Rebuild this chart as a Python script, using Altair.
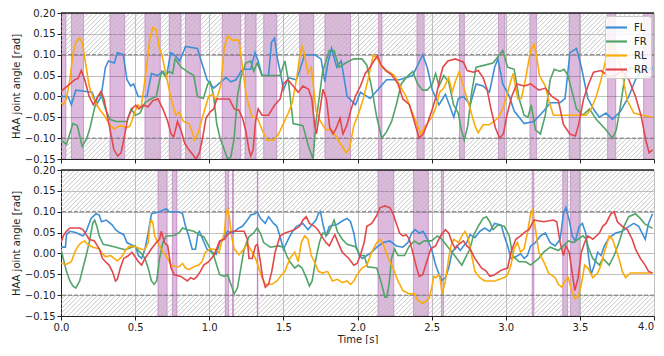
import altair as alt
import numpy as np
import pandas as pd

LEGS = ["FL", "FR", "RL", "RR"]
COLORS = ["#3f8fd6", "#52a468", "#fbab0a", "#e2474b"]

# ---------------- top panel series (time [s], angle [rad]) ----------------
TOP_FL = [(0.0, 0.0), (0.048, 0.0), (0.07, -0.02), (0.10, 0.015), (0.17, 0.012), (0.21, 0.01), (0.24, -0.02),
          (0.27, 0.0), (0.30, 0.07), (0.32, 0.085), (0.36, 0.08), (0.38, 0.105), (0.42, 0.10), (0.445, 0.04),
          (0.47, 0.025), (0.49, 0.03), (0.52, 0.0), (0.58, 0.0), (0.61, 0.055), (0.65, 0.05), (0.69, 0.06),
          (0.71, 0.045), (0.74, 0.105), (0.765, 0.10), (0.80, 0.085), (0.84, 0.12), (0.92, 0.115), (0.95, 0.08),
          (0.985, 0.04), (1.03, 0.02), (1.113, 0.045), (1.146, 0.035), (1.18, 0.04), (1.224, 0.065),
          (1.28, 0.065), (1.308, 0.105), (1.33, 0.085), (1.356, 0.05), (1.40, 0.05), (1.42, 0.13), (1.44, 0.14),
          (1.46, 0.09), (1.484, 0.05), (1.50, 0.015), (1.533, 0.045), (1.588, 0.04), (1.617, 0.07),
          (1.643, 0.10), (1.71, 0.10), (1.754, 0.09), (1.78, 0.035), (1.80, 0.08), (1.825, 0.115), (1.86, 0.07),
          (1.89, 0.085), (1.93, 0.0), (1.986, -0.02), (2.02, 0.01), (2.085, -0.005), (2.196, 0.04),
          (2.284, 0.04), (2.372, 0.05), (2.44, 0.10), (2.47, 0.07), (2.505, 0.015), (2.55, -0.02),
          (2.593, 0.005), (2.65, -0.05), (2.68, -0.005), (2.715, 0.0), (2.76, -0.02), (2.80, 0.03),
          (2.847, 0.025), (2.89, 0.01), (2.925, 0.07), (2.947, 0.09), (2.98, 0.03), (3.024, 0.0),
          (3.057, -0.035), (3.124, -0.065), (3.19, -0.06), (3.256, -0.035), (3.30, -0.015), (3.366, -0.015),
          (3.40, -0.005), (3.433, 0.105), (3.477, 0.115), (3.51, 0.07), (3.554, -0.005), (3.60, -0.035),
          (3.632, -0.05), (3.676, -0.04), (3.72, -0.055), (3.775, -0.035), (3.83, 0.0), (3.875, 0.04),
          (3.92, 0.065), (3.99, 0.065)]

TOP_FR = [(0.0, -0.105), (0.037, -0.115), (0.08, -0.065), (0.11, -0.07), (0.143, -0.12), (0.174, -0.10),
          (0.196, -0.075), (0.225, -0.03), (0.247, 0.0), (0.27, 0.005), (0.30, -0.03), (0.33, -0.055),
          (0.37, -0.06), (0.445, -0.06), (0.474, -0.03), (0.50, -0.045), (0.533, -0.04), (0.566, -0.015),
          (0.61, -0.005), (0.643, 0.0), (0.665, 0.04), (0.68, 0.06), (0.70, 0.05), (0.73, 0.06), (0.753, 0.055),
          (0.77, 0.09), (0.81, 0.07), (0.85, 0.06), (0.896, 0.05), (0.92, 0.0), (0.96, -0.005), (0.99, 0.03),
          (1.007, 0.035), (1.03, 0.0), (1.05, -0.065), (1.073, -0.10), (1.124, -0.15), (1.146, -0.145),
          (1.168, -0.10), (1.19, 0.0), (1.213, 0.045), (1.246, 0.08), (1.28, 0.085), (1.30, 0.06),
          (1.323, 0.08), (1.356, 0.05), (1.41, 0.05), (1.478, 0.05), (1.51, 0.085), (1.533, 0.04),
          (1.566, -0.065), (1.632, -0.07), (1.67, -0.12), (1.70, -0.15), (1.72, -0.06), (1.743, 0.0),
          (1.765, 0.06), (1.81, 0.11), (1.842, 0.11), (1.875, 0.07), (1.92, 0.08), (1.975, 0.09), (2.03, 0.09),
          (2.063, 0.075), (2.096, 0.02), (2.13, -0.05), (2.163, -0.10), (2.196, -0.085), (2.23, -0.06),
          (2.262, -0.02), (2.295, 0.03), (2.328, 0.045), (2.373, 0.06), (2.405, 0.03), (2.44, 0.015),
          (2.47, 0.015), (2.505, 0.03), (2.527, 0.055), (2.55, 0.025), (2.582, 0.05), (2.615, 0.035),
          (2.648, -0.02), (2.68, -0.04), (2.70, -0.08), (2.72, -0.105), (2.744, -0.07), (2.77, 0.01),
          (2.80, 0.07), (2.858, 0.075), (2.914, 0.08), (2.958, 0.10), (2.98, 0.11), (3.013, 0.07),
          (3.057, 0.065), (3.09, -0.005), (3.124, -0.045), (3.15, -0.05), (3.172, -0.02), (3.20, -0.08),
          (3.234, -0.09), (3.267, -0.045), (3.30, 0.04), (3.327, 0.065), (3.366, 0.06), (3.393, 0.065),
          (3.42, 0.05), (3.477, -0.03), (3.52, -0.045), (3.565, -0.03), (3.61, -0.055), (3.676, -0.08),
          (3.72, -0.10), (3.746, -0.08), (3.775, -0.02), (3.804, 0.05), (3.84, 0.07), (3.897, 0.06),
          (3.99, 0.07)]

TOP_RL = [(0.0, -0.015), (0.015, -0.02), (0.037, -0.005), (0.06, 0.04), (0.08, 0.10), (0.10, 0.13),
          (0.125, 0.14), (0.143, 0.13), (0.17, 0.07), (0.19, 0.025), (0.218, -0.005), (0.258, -0.03),
          (0.29, -0.045), (0.324, -0.065), (0.357, -0.078), (0.40, -0.07), (0.445, -0.075), (0.467, -0.07),
          (0.49, -0.045), (0.518, -0.02), (0.54, -0.027), (0.555, 0.01), (0.577, 0.07), (0.60, 0.14),
          (0.62, 0.165), (0.643, 0.16), (0.66, 0.12), (0.68, 0.10), (0.71, 0.05), (0.742, -0.005),
          (0.775, -0.045), (0.797, -0.037), (0.826, -0.06), (0.863, -0.065), (0.885, -0.085), (0.90, -0.105),
          (0.923, -0.09), (0.958, -0.045), (0.996, 0.0), (1.024, 0.005), (1.047, -0.01), (1.08, 0.03),
          (1.10, 0.115), (1.124, 0.145), (1.157, 0.135), (1.20, 0.135), (1.224, 0.07), (1.25, 0.0),
          (1.29, -0.05), (1.323, -0.05), (1.356, -0.08), (1.39, -0.105), (1.434, -0.105), (1.467, -0.09),
          (1.50, -0.065), (1.533, -0.04), (1.56, -0.015), (1.588, 0.04), (1.61, 0.095), (1.626, 0.12),
          (1.643, 0.10), (1.666, 0.055), (1.688, 0.07), (1.703, 0.025), (1.72, -0.035), (1.75, -0.06),
          (1.787, -0.08), (1.82, -0.08), (1.853, -0.095), (1.897, -0.12), (1.924, -0.135), (1.946, -0.125),
          (1.975, -0.07), (2.008, -0.04), (2.04, -0.005), (2.074, 0.045), (2.107, 0.10), (2.134, 0.09),
          (2.163, 0.07), (2.207, 0.06), (2.25, 0.05), (2.295, 0.02), (2.328, 0.0), (2.36, -0.03),
          (2.394, -0.06), (2.427, -0.09), (2.46, -0.07), (2.505, -0.048), (2.53, -0.025), (2.554, 0.01),
          (2.582, 0.02), (2.615, 0.045), (2.638, 0.01), (2.664, 0.04), (2.686, 0.06), (2.726, 0.01),
          (2.76, -0.03), (2.792, -0.07), (2.814, -0.087), (2.847, -0.068), (2.89, -0.068), (2.947, -0.052),
          (2.98, -0.03), (3.002, -0.005), (3.028, 0.03), (3.05, 0.055), (3.08, -0.005), (3.106, -0.005),
          (3.135, 0.045), (3.168, 0.11), (3.19, 0.125), (3.207, 0.10), (3.227, 0.05), (3.267, 0.025),
          (3.294, -0.015), (3.322, -0.045), (3.433, -0.045), (3.543, -0.045), (3.576, -0.03), (3.61, 0.0),
          (3.643, 0.04), (3.676, 0.09), (3.709, 0.125), (3.742, 0.11), (3.782, 0.06), (3.82, -0.01),
          (3.864, -0.04), (3.92, -0.045), (3.99, -0.05)]

TOP_RR = [(0.0, 0.012), (0.026, 0.02), (0.06, 0.03), (0.093, 0.04), (0.115, 0.043), (0.137, 0.062),
          (0.16, 0.04), (0.19, 0.0), (0.218, -0.02), (0.24, -0.006), (0.27, 0.012), (0.29, -0.006),
          (0.324, -0.067), (0.357, -0.128), (0.383, -0.143), (0.405, -0.135), (0.427, -0.098), (0.45, -0.052),
          (0.478, -0.03), (0.504, -0.021), (0.526, -0.03), (0.555, -0.021), (0.588, -0.025), (0.62, -0.01),
          (0.654, -0.006), (0.687, -0.03), (0.72, -0.06), (0.742, -0.09), (0.76, -0.097), (0.786, -0.06),
          (0.81, -0.082), (0.835, -0.113), (0.863, -0.128), (0.89, -0.14), (0.91, -0.15), (0.934, -0.135),
          (0.956, -0.098), (0.978, -0.052), (1.007, -0.037), (1.03, -0.03), (1.05, -0.006), (1.135, -0.006),
          (1.168, -0.03), (1.20, -0.033), (1.224, -0.052), (1.246, -0.082), (1.268, -0.128), (1.28, -0.143),
          (1.296, -0.128), (1.312, -0.06), (1.33, -0.03), (1.356, -0.045), (1.40, -0.045), (1.44, -0.021),
          (1.478, -0.006), (1.50, 0.03), (1.53, 0.04), (1.566, 0.025), (1.60, 0.01), (1.632, 0.025),
          (1.67, 0.017), (1.692, -0.006), (1.71, -0.067), (1.723, -0.09), (1.745, -0.037), (1.767, 0.017),
          (1.79, -0.006), (1.813, -0.075), (1.835, -0.09), (1.858, -0.075), (1.882, -0.052), (1.902, -0.09),
          (1.93, -0.067), (1.957, -0.03), (1.986, 0.0), (2.02, 0.025), (2.052, 0.055), (2.085, 0.07),
          (2.11, 0.085), (2.134, 0.097), (2.156, 0.078), (2.19, 0.062), (2.23, 0.052), (2.273, 0.03),
          (2.306, -0.006), (2.35, -0.02), (2.383, -0.06), (2.416, -0.10), (2.443, -0.09), (2.472, -0.065),
          (2.505, -0.03), (2.53, 0.0), (2.554, 0.04), (2.576, 0.07), (2.61, 0.085), (2.66, 0.09),
          (2.715, 0.082), (2.74, 0.062), (2.78, 0.058), (2.814, 0.062), (2.847, 0.045), (2.874, 0.017),
          (2.90, -0.03), (2.93, -0.075), (2.958, -0.10), (2.984, -0.09), (3.008, -0.045), (3.04, 0.0),
          (3.075, 0.03), (3.124, 0.025), (3.168, 0.03), (3.223, 0.015), (3.267, 0.02), (3.311, 0.0),
          (3.355, -0.01), (3.389, -0.067), (3.433, -0.09), (3.47, -0.095), (3.492, -0.067), (3.525, -0.006),
          (3.559, 0.03), (3.592, 0.058), (3.643, 0.062), (3.698, 0.047), (3.742, 0.05), (3.786, 0.062),
          (3.83, 0.04), (3.875, 0.0), (3.912, -0.045), (3.945, -0.105), (3.967, -0.135), (3.99, -0.128)]

# ---------------- bottom panel series ----------------
BOT_FL = [(0.0, 0.015), (0.03, 0.015), (0.037, 0.045), (0.06, 0.053), (0.10, 0.05), (0.148, 0.042),
          (0.17, 0.053), (0.203, 0.084), (0.236, 0.095), (0.258, 0.092), (0.273, 0.076), (0.306, 0.08),
          (0.346, 0.068), (0.368, 0.057), (0.394, 0.05), (0.423, 0.045), (0.445, 0.026), (0.49, 0.018),
          (0.504, 0.015), (0.522, -0.005), (0.544, -0.012), (0.566, 0.01), (0.588, 0.049), (0.61, 0.095),
          (0.632, 0.097), (0.665, 0.10), (0.71, 0.107), (0.73, 0.10), (0.797, 0.10), (0.82, 0.095),
          (0.84, 0.065), (0.863, 0.04), (0.885, 0.01), (0.907, 0.01), (0.925, 0.05), (0.934, 0.053),
          (0.956, 0.034), (0.985, 0.01), (1.018, 0.003), (1.047, -0.002), (1.07, 0.026), (1.09, 0.034),
          (1.124, 0.053), (1.157, 0.049), (1.20, 0.061), (1.224, 0.065), (1.257, 0.08), (1.28, 0.092),
          (1.308, 0.095), (1.323, 0.10), (1.345, 0.084), (1.378, 0.072), (1.40, 0.088), (1.434, 0.072),
          (1.456, 0.065), (1.478, 0.04), (1.50, 0.01), (1.522, 0.026), (1.555, 0.049), (1.588, 0.065),
          (1.632, 0.072), (1.666, 0.057), (1.70, 0.072), (1.72, 0.08), (1.736, 0.095), (1.75, 0.10),
          (1.77, 0.065), (1.787, 0.042), (1.81, 0.065), (1.864, 0.07), (1.908, 0.08), (1.93, 0.084),
          (1.953, 0.076), (1.975, 0.049), (1.99, 0.018), (2.012, -0.005), (2.034, -0.012), (2.063, -0.005),
          (2.096, 0.003), (2.13, 0.015), (2.174, 0.026), (2.218, 0.03), (2.262, 0.018), (2.306, 0.015),
          (2.34, 0.026), (2.366, 0.049), (2.388, 0.057), (2.417, 0.049), (2.443, 0.053), (2.472, 0.034),
          (2.50, 0.01), (2.527, -0.028), (2.55, -0.05), (2.57, -0.065), (2.593, -0.058), (2.615, -0.035),
          (2.638, 0.003), (2.67, 0.018), (2.693, 0.007), (2.715, 0.018), (2.737, 0.026), (2.759, 0.045),
          (2.792, 0.038), (2.825, 0.053), (2.858, 0.061), (2.892, 0.053), (2.925, 0.072), (2.97, 0.068),
          (2.99, 0.042), (3.013, 0.018), (3.035, -0.012), (3.068, -0.008), (3.10, -0.001), (3.124, -0.012),
          (3.146, -0.005), (3.168, 0.018), (3.20, 0.026), (3.234, 0.042), (3.267, 0.049), (3.30, 0.026),
          (3.333, 0.018), (3.367, 0.034), (3.389, 0.095), (3.406, 0.11), (3.428, 0.08), (3.448, 0.042),
          (3.47, 0.03), (3.495, 0.065), (3.517, 0.072), (3.539, 0.049), (3.56, -0.012), (3.576, -0.05),
          (3.598, -0.028), (3.62, 0.003), (3.643, -0.005), (3.665, 0.018), (3.698, 0.038), (3.742, 0.049),
          (3.786, 0.053), (3.83, 0.065), (3.864, 0.072), (3.897, 0.065), (3.941, 0.034), (3.963, 0.072),
          (3.99, 0.095)]

BOT_FR = [(0.0, 0.01), (0.015, -0.012), (0.037, -0.043), (0.06, -0.066), (0.08, -0.078), (0.10, -0.083),
          (0.126, -0.066), (0.148, -0.035), (0.17, -0.005), (0.19, 0.026), (0.214, 0.072), (0.227, 0.08),
          (0.242, 0.065), (0.258, 0.042), (0.284, 0.022), (0.346, 0.017), (0.40, 0.012), (0.434, 0.009),
          (0.478, 0.015), (0.50, 0.018), (0.522, 0.007), (0.544, -0.001), (0.566, -0.012), (0.588, -0.035),
          (0.61, -0.066), (0.628, -0.074), (0.645, -0.066), (0.665, -0.012), (0.687, 0.026), (0.71, 0.042),
          (0.764, 0.043), (0.797, 0.05), (0.82, 0.061), (0.852, 0.057), (0.896, 0.053), (0.93, 0.045),
          (0.963, 0.04), (0.996, 0.018), (1.03, -0.005), (1.05, -0.028), (1.07, -0.051), (1.102, -0.055),
          (1.124, -0.051), (1.146, -0.074), (1.168, -0.097), (1.19, -0.083), (1.213, -0.035), (1.235, 0.01),
          (1.268, 0.04), (1.30, 0.049), (1.323, 0.061), (1.345, 0.049), (1.367, 0.026), (1.412, 0.015),
          (1.467, 0.018), (1.50, 0.015), (1.522, -0.005), (1.544, -0.02), (1.577, -0.035), (1.60, -0.028),
          (1.626, -0.035), (1.654, -0.058), (1.676, -0.078), (1.694, -0.066), (1.72, -0.012), (1.743, 0.026),
          (1.765, 0.049), (1.798, 0.045), (1.824, 0.065), (1.842, 0.08), (1.864, 0.053), (1.897, 0.034),
          (1.93, 0.022), (1.986, 0.016), (2.019, -0.005), (2.045, -0.005), (2.068, -0.032), (2.13, -0.035),
          (2.163, -0.074), (2.185, -0.105), (2.198, -0.105), (2.213, -0.074), (2.229, -0.012), (2.25, 0.011),
          (2.273, -0.005), (2.317, -0.005), (2.35, 0.018), (2.383, 0.03), (2.417, 0.022), (2.45, 0.03),
          (2.50, 0.03), (2.538, 0.042), (2.57, 0.034), (2.604, 0.018), (2.638, 0.003), (2.67, -0.012),
          (2.704, -0.028), (2.726, -0.012), (2.759, 0.011), (2.781, 0.042), (2.814, 0.065), (2.847, 0.084),
          (2.87, 0.088), (2.892, 0.076), (2.914, 0.057), (2.947, 0.068), (2.99, 0.065), (3.024, 0.042),
          (3.046, -0.005), (3.09, -0.02), (3.135, -0.02), (3.168, -0.028), (3.223, -0.012), (3.256, 0.003),
          (3.30, 0.015), (3.355, 0.007), (3.389, 0.018), (3.422, 0.03), (3.455, 0.026), (3.488, 0.034),
          (3.521, 0.042), (3.543, 0.034), (3.56, 0.011), (3.587, -0.012), (3.632, -0.028), (3.654, -0.012),
          (3.698, -0.028), (3.731, -0.005), (3.764, 0.026), (3.797, 0.065), (3.83, 0.088), (3.875, 0.095),
          (3.907, 0.084), (3.94, 0.07), (3.99, 0.06)]

BOT_RL = [(0.0, -0.024), (0.037, -0.026), (0.07, -0.02), (0.093, 0.003), (0.115, 0.018), (0.137, 0.026),
          (0.159, 0.03), (0.18, 0.022), (0.214, 0.015), (0.258, 0.011), (0.28, -0.001), (0.30, -0.008),
          (0.335, -0.005), (0.38, -0.018), (0.41, -0.008), (0.434, 0.007), (0.46, 0.017), (0.49, 0.017),
          (0.544, 0.01), (0.566, 0.009), (0.588, 0.026), (0.60, 0.072), (0.61, 0.08), (0.62, 0.072),
          (0.632, 0.042), (0.654, 0.026), (0.676, 0.011), (0.698, -0.001), (0.72, -0.012), (0.742, -0.028),
          (0.775, -0.032), (0.797, -0.032), (0.82, -0.024), (0.84, -0.035), (0.863, -0.039), (0.896, -0.032),
          (0.93, -0.028), (0.95, -0.02), (0.974, 0.003), (1.007, 0.011), (1.047, 0.009), (1.065, 0.001),
          (1.08, 0.022), (1.102, 0.049), (1.113, 0.095), (1.124, 0.107), (1.135, 0.088), (1.15, 0.042),
          (1.168, 0.011), (1.20, -0.003), (1.235, 0.011), (1.257, 0.022), (1.29, 0.003), (1.312, -0.012),
          (1.334, -0.035), (1.356, -0.058), (1.378, -0.074), (1.423, -0.074), (1.456, -0.066), (1.489, -0.051),
          (1.511, -0.043), (1.544, -0.012), (1.577, 0.003), (1.60, -0.02), (1.621, 0.026), (1.643, 0.042),
          (1.666, 0.034), (1.688, -0.005), (1.71, -0.02), (1.736, -0.043), (1.765, -0.047), (1.798, -0.043),
          (1.831, -0.066), (1.864, -0.062), (1.897, -0.07), (1.93, -0.066), (1.953, -0.074), (1.975, -0.066),
          (1.997, -0.051), (2.03, -0.035), (2.063, -0.028), (2.096, 0.003), (2.13, 0.026), (2.152, 0.034),
          (2.178, 0.018), (2.207, -0.012), (2.24, -0.035), (2.273, -0.066), (2.306, -0.089), (2.35, -0.097),
          (2.383, -0.097), (2.405, -0.112), (2.44, -0.12), (2.472, -0.112), (2.49, -0.10), (2.515, -0.055),
          (2.527, -0.058), (2.55, -0.051), (2.56, -0.066), (2.571, -0.097), (2.593, -0.066), (2.615, -0.012),
          (2.63, 0.018), (2.649, 0.034), (2.682, 0.026), (2.704, 0.042), (2.726, 0.053), (2.748, 0.034),
          (2.77, -0.005), (2.792, -0.043), (2.825, -0.058), (2.858, -0.066), (2.925, -0.066), (2.99, -0.058),
          (3.013, -0.051), (3.035, -0.028), (3.057, 0.011), (3.079, 0.026), (3.10, 0.003), (3.124, 0.011),
          (3.146, 0.049), (3.168, 0.095), (3.18, 0.103), (3.194, 0.072), (3.207, 0.042), (3.223, 0.003),
          (3.245, -0.012), (3.267, -0.028), (3.289, -0.047), (3.333, -0.058), (3.355, -0.074), (3.378, -0.081),
          (3.40, -0.066), (3.422, -0.058), (3.444, -0.089), (3.466, -0.108), (3.488, -0.105), (3.51, -0.074),
          (3.532, -0.028), (3.554, -0.035), (3.587, -0.058), (3.62, -0.047), (3.643, -0.028), (3.665, 0.003),
          (3.698, 0.042), (3.72, 0.034), (3.742, 0.011), (3.764, -0.012), (3.786, -0.043), (3.808, -0.058),
          (3.841, -0.047), (3.918, -0.047), (3.99, -0.047)]

BOT_RR = [(0.0, 0.026), (0.015, 0.042), (0.037, 0.053), (0.06, 0.061), (0.126, 0.061), (0.148, 0.057),
          (0.17, 0.045), (0.19, 0.034), (0.225, 0.03), (0.258, 0.011), (0.28, -0.012), (0.30, -0.02),
          (0.324, -0.028), (0.346, -0.043), (0.368, -0.066), (0.38, -0.062), (0.40, -0.035), (0.423, -0.012),
          (0.456, -0.005), (0.478, 0.003), (0.50, -0.008), (0.522, -0.02), (0.544, -0.028), (0.566, -0.012),
          (0.588, -0.001), (0.61, 0.011), (0.643, 0.026), (0.665, 0.034), (0.676, 0.053), (0.698, 0.026),
          (0.72, 0.018), (0.742, -0.035), (0.764, -0.051), (0.808, -0.055), (0.852, -0.066), (0.874, -0.058),
          (0.896, -0.062), (0.918, -0.055), (0.94, -0.043), (0.963, -0.028), (0.996, -0.02), (1.03, -0.005),
          (1.05, 0.011), (1.07, 0.03), (1.102, 0.034), (1.124, 0.045), (1.157, 0.053), (1.235, 0.053),
          (1.257, 0.034), (1.268, -0.012), (1.29, -0.012), (1.312, 0.018), (1.325, 0.022), (1.345, -0.02),
          (1.36, -0.058), (1.378, -0.081), (1.40, -0.074), (1.422, -0.043), (1.444, 0.003), (1.478, 0.042),
          (1.511, 0.049), (1.577, 0.057), (1.61, 0.065), (1.632, 0.08), (1.654, 0.088), (1.676, 0.072),
          (1.71, 0.065), (1.732, 0.057), (1.765, 0.038), (1.787, 0.026), (1.81, 0.018), (1.831, 0.034),
          (1.847, 0.045), (1.869, 0.026), (1.897, 0.003), (1.92, -0.005), (1.942, -0.012), (1.975, -0.028),
          (1.997, -0.024), (2.019, -0.005), (2.045, 0.026), (2.063, 0.065), (2.096, 0.072), (2.13, 0.091),
          (2.152, 0.11), (2.185, 0.114), (2.218, 0.11), (2.24, 0.095), (2.262, 0.072), (2.284, 0.049),
          (2.306, 0.042), (2.328, 0.045), (2.35, 0.034), (2.372, 0.003), (2.394, -0.028), (2.416, -0.055),
          (2.44, -0.051), (2.46, -0.028), (2.494, 0.011), (2.527, 0.018), (2.56, 0.042), (2.593, 0.057),
          (2.615, 0.049), (2.638, 0.026), (2.66, 0.011), (2.682, 0.022), (2.715, 0.03), (2.737, 0.018),
          (2.759, 0.011), (2.792, -0.012), (2.836, -0.035), (2.87, -0.043), (2.892, -0.055), (2.925, -0.051),
          (2.97, -0.04), (3.013, -0.035), (3.035, 0.003), (3.068, 0.034), (3.10, 0.042), (3.135, 0.053),
          (3.157, 0.057), (3.19, 0.08), (3.256, 0.076), (3.322, 0.08), (3.344, 0.076), (3.367, 0.026),
          (3.389, -0.005), (3.406, 0.018), (3.428, 0.003), (3.45, -0.051), (3.466, -0.089), (3.488, -0.058),
          (3.51, 0.003), (3.532, 0.026), (3.554, 0.042), (3.587, 0.034), (3.632, 0.049), (3.654, 0.065),
          (3.676, 0.072), (3.709, 0.095), (3.731, 0.10), (3.753, 0.076), (3.786, 0.065), (3.82, 0.057),
          (3.853, 0.034), (3.875, 0.011), (3.908, -0.012), (3.94, -0.028), (3.963, -0.043), (3.99, -0.047)]

# shaded intervals (start, end) [s]
TOP_BANDS = [(0.0, 0.033), (0.07, 0.152), (0.33, 0.43), (0.566, 0.67), (0.73, 0.81), (0.84, 0.94),
             (1.087, 1.213), (1.241, 1.316), (1.367, 1.456), (1.61, 1.705), (1.78, 1.953), (2.142, 2.165),
             (2.401, 2.45), (2.688, 2.721), (2.951, 2.995), (3.163, 3.207), (3.428, 3.499), (3.687, 3.742),
             (3.93, 4.0)]
BOT_BANDS = [(0.654, 0.716), (0.751, 0.782), (1.108, 1.131), (1.157, 1.163), (1.324, 1.328),
             (2.138, 2.245), (2.378, 2.478), (2.566, 2.58), (3.178, 3.19), (3.384, 3.417), (3.437, 3.497)]

Y_TICKS = [-0.15, -0.10, -0.05, 0.0, 0.05, 0.10, 0.15, 0.20]
X_TICKS = [0.0, 0.5, 1.0, 1.5, 2.0, 2.5, 3.0, 3.5, 4.0]
LIMITS = [0.10, -0.10]
Y_MIN, Y_MAX = -0.15, 0.20
X_MIN, X_MAX = 0.0, 4.0

PW, PH = 593, 146
PURPLE = "#800080"
INK = "#222222"

xs = alt.Scale(domain=[X_MIN, X_MAX], nice=False, zero=False)
ys = alt.Scale(domain=[Y_MIN, Y_MAX], nice=False, zero=False)


def hatch_frame():
    # diagonal "///" hatch segments for |angle| > 0.1 regions (decoration)
    px_per_s = PW / (X_MAX - X_MIN)
    px_per_rad = PH / (Y_MAX - Y_MIN)
    step = 4.6 / px_per_s
    rows = []
    for lo, hi in [(LIMITS[0], Y_MAX), (Y_MIN, LIMITS[1])]:
        dx = (hi - lo) * px_per_rad / px_per_s
        for x0 in np.arange(X_MIN - dx - step, X_MAX + step, step):
            rows.append({"hx": x0, "hy": lo, "hx2": x0 + dx, "hy2": hi})
    return pd.DataFrame(rows)


def panel(series, bands, bottom):
    rows = []
    for leg, pts in zip(LEGS, series):
        for t, v in pts:
            rows.append({"t": t, "v": v, "leg": leg})
    df = pd.DataFrame(rows)
    bdf = pd.DataFrame(bands, columns=["t0", "t1"])
    ldf = pd.DataFrame({"lim": LIMITS})

    if bottom:
        xaxis = alt.Axis(values=X_TICKS, tickCount=len(X_TICKS), format=".1f", title="Time [s]", grid=True,
                         labelOverlap=False, labelFlush=False, titlePadding=2,
                         labelExpr=f"datum.value >= {X_MAX} ? '' : datum.label")
    else:
        xaxis = alt.Axis(values=X_TICKS, tickCount=len(X_TICKS), labels=False, title=None, grid=True)
    yaxis = alt.Axis(values=Y_TICKS, tickCount=len(Y_TICKS), format=".2f", title="HAA joint angle [rad]",
                     grid=True, labelOverlap=False, titlePadding=3)

    X = lambda f: alt.X(f, type="quantitative", scale=xs, axis=xaxis)
    Y = lambda f: alt.Y(f, type="quantitative", scale=ys, axis=yaxis)

    band_layer = alt.Chart(bdf).mark_rect(
        fill=PURPLE, fillOpacity=0.27, stroke=PURPLE, strokeOpacity=0.3, strokeWidth=1, clip=True
    ).encode(x=X("t0"), x2="t1")

    hatch = alt.Chart(hatch_frame()).mark_rule(color="#b8b8b8", strokeWidth=0.8, clip=True).encode(
        x=X("hx"), y=Y("hy"), x2="hx2", y2="hy2")

    lim = alt.Chart(ldf).mark_rule(color="#7a7a7a", strokeWidth=1, strokeDash=[4, 2]).encode(y=Y("lim"))

    legend = alt.Legend(orient="top-right", title=None, offset=3, fillColor="rgba(255,255,255,0.85)",
                        strokeColor="#cccccc", cornerRadius=3, padding=3, symbolType="M-1.5,0L1.5,0",
                        symbolStrokeWidth=2.2, symbolSize=196, labelFontSize=10, labelOffset=9,
                        rowPadding=0, labelColor=INK) if not bottom else None

    lines = alt.Chart(df).mark_line(strokeWidth=1.6, clip=True).encode(
        x=X("t"), y=Y("v"),
        color=alt.Color("leg:N", scale=alt.Scale(domain=LEGS, range=COLORS), legend=legend),
    )

    top_border = alt.Chart(ldf).mark_rule(color=INK, strokeWidth=1).encode(
        y=alt.YDatum(Y_MAX, type="quantitative", scale=ys, axis=yaxis))

    layers = [band_layer, hatch, lim, lines, top_border]
    if bottom:
        end_df = pd.DataFrame({"t": [X_TICKS[-1]], "lab": [f"{X_TICKS[-1]:.1f}"]})
        end_label = alt.Chart(end_df).mark_text(align="right", baseline="top", dy=6, fontSize=10,
                                                color=INK).encode(
            x=X("t"), y=alt.YDatum(Y_MIN, type="quantitative", scale=ys, axis=yaxis), text="lab:N")
        layers.append(end_label)
    return alt.layer(*layers).properties(width=PW, height=PH)


top = panel([TOP_FL, TOP_FR, TOP_RL, TOP_RR], TOP_BANDS, bottom=False)
bot = panel([BOT_FL, BOT_FR, BOT_RL, BOT_RR], BOT_BANDS, bottom=True)

chart = alt.vconcat(top, bot, spacing=11, bounds="flush").resolve_legend(color="independent").properties(
    padding={"left": 3, "right": 0, "top": 0, "bottom": 0}
).configure(font="DejaVu Sans").configure_view(stroke=None).configure_axis(
    labelFontSize=10, titleFontSize=10, titleFontWeight="normal", labelColor=INK,
    titleColor=INK, tickColor=INK, domainColor=INK, gridColor="#b0b0b0",
    gridWidth=0.8, tickSize=4, labelPadding=2, labelOverlap=False
)

chart.save("out.html", embed_options={"renderer": "svg", "actions": False})
